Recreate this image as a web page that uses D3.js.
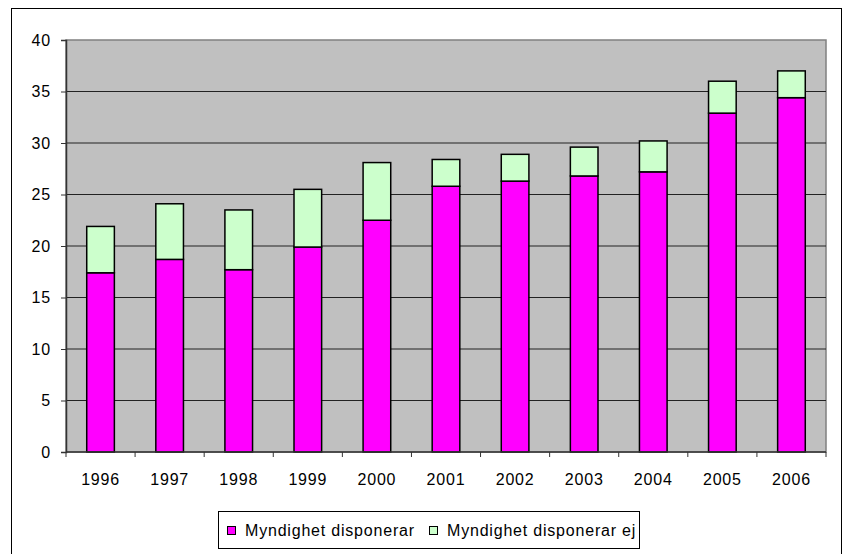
<!DOCTYPE html>
<html>
<head>
<meta charset="utf-8">
<script src="https://cdn.jsdelivr.net/npm/d3@7"></script>
<style>
  html, body { margin: 0; padding: 0; background: #fff; }
  svg { display: block; }
  text { font-family: "Liberation Sans", Arial, sans-serif; font-size: 16px; letter-spacing: 0.8px; fill: #000; }
</style>
</head>
<body>
<svg id="chart" width="843" height="554"></svg>
<script>
const years = ["1996","1997","1998","1999","2000","2001","2002","2003","2004","2005","2006"];
const disponerar = [17.4, 18.7, 17.7, 19.9, 22.5, 25.8, 26.3, 26.8, 27.2, 32.9, 34.4];
const disponerarEj = [4.5, 5.4, 5.8, 5.6, 5.6, 2.6, 2.6, 2.8, 3.0, 3.1, 2.6];
const yTicks = [0, 5, 10, 15, 20, 25, 30, 35, 40];
const seriesNames = ["Myndighet disponerar", "Myndighet disponerar ej"];
const seriesColors = ["#FF00FF", "#CCFFCC"];

const svg = d3.select("#chart");
const L = 66, R = 826, T = 40, B = 452;

// outer chart border
svg.append("rect").attr("x", 11.5).attr("y", 8.5).attr("width", 830).attr("height", 560)
  .attr("fill", "#fff").attr("stroke", "#000").attr("stroke-width", 1);

const x = d3.scaleBand().domain(years).range([L, R]).paddingInner(0.6).paddingOuter(0.3);
const y = d3.scaleLinear().domain([0, 40]).range([B, T]);

// plot area
svg.append("rect").attr("x", L).attr("y", T).attr("width", R - L).attr("height", B - T)
  .attr("fill", "#C0C0C0").attr("stroke", "#808080").attr("stroke-width", 1.5);

// gridlines
svg.append("g").selectAll("line").data(yTicks.filter(d => d > 0 && d < 40)).join("line")
  .attr("x1", L).attr("x2", R).attr("y1", d => y(d)).attr("y2", d => y(d))
  .attr("stroke", "#222").attr("stroke-width", 1);

// stacked bars
const rows = years.map((yr, i) => ({ year: yr, a: disponerar[i], b: disponerarEj[i] }));
const stack = d3.stack().keys(["a", "b"])(rows);
svg.append("g").selectAll("g").data(stack).join("g")
  .attr("fill", (d, i) => seriesColors[i])
  .selectAll("rect").data(d => d).join("rect")
  .attr("x", d => x(d.data.year))
  .attr("width", x.bandwidth())
  .attr("y", d => y(d[1]))
  .attr("height", d => y(d[0]) - y(d[1]))
  .attr("stroke", "#000").attr("stroke-width", 1.5);

// y axis
const yAxis = d3.axisLeft(y).tickValues(yTicks).tickSize(5).tickPadding(10);
const ga = svg.append("g").attr("transform", `translate(${L},0)`).call(yAxis);
ga.select(".domain").attr("stroke", "#333").attr("stroke-width", 1.5);
ga.selectAll(".tick line").attr("stroke", "#333");
ga.selectAll("text").style("font-size", "16px").attr("fill", "#000").attr("font-family", null);

// x axis
const step = x.step();
const xb = svg.append("g");
xb.append("line").attr("x1", L).attr("x2", R).attr("y1", B).attr("y2", B).attr("stroke", "#333").attr("stroke-width", 1.5);
xb.selectAll("line.tk").data(d3.range(years.length + 1)).join("line").attr("class", "tk")
  .attr("x1", i => L + i * step).attr("x2", i => L + i * step)
  .attr("y1", B).attr("y2", B + 5).attr("stroke", "#333");
xb.selectAll("text").data(years).join("text")
  .attr("x", d => x(d) + x.bandwidth() / 2).attr("y", 485)
  .attr("text-anchor", "middle").text(d => d);

// legend
const lg = svg.append("g");
lg.append("rect").attr("x", 218.5).attr("y", 511.5).attr("width", 421).attr("height", 37)
  .attr("fill", "#fff").attr("stroke", "#000").attr("stroke-width", 1);
const legendX = [227, 429];
seriesNames.forEach((name, i) => {
  lg.append("rect").attr("x", legendX[i] + 0.5).attr("y", 526.5).attr("width", 8).attr("height", 8)
    .attr("fill", seriesColors[i]).attr("stroke", "#000").attr("stroke-width", 1);
  lg.append("text").attr("x", legendX[i] + 18).attr("y", 535.5).text(name);
});
</script>
</body>
</html>
